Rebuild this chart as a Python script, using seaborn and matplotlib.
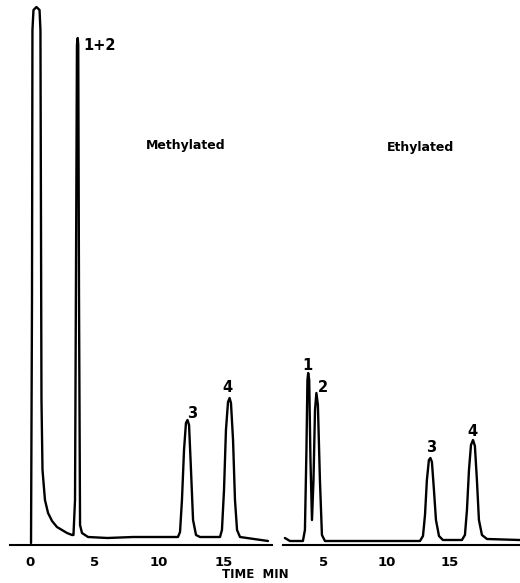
import matplotlib
matplotlib.use("Agg")
import matplotlib.pyplot as plt
import seaborn as sns
import pandas as pd

# ---- data (time in min, detector response in arbitrary units) ----
meth_time = [0.08, 0.155, 0.19, 0.27, 0.50, 0.74, 0.81, 0.89, 0.97, 1.16, 1.40, 1.71, 2.09, 2.48,
             2.87, 3.26, 3.37, 3.49, 3.59, 3.64, 3.70, 3.74, 3.80, 3.88, 4.03, 4.50, 6.0, 8.0,
             10.0, 11.47, 11.63, 11.78, 11.94, 12.09, 12.21, 12.33, 12.48, 12.64, 12.87, 13.18,
             14.73, 14.88, 15.04, 15.19, 15.35, 15.47, 15.58, 15.74, 15.89, 16.05, 16.28, 18.45]
meth_signal = [2, 245, 515, 535, 538, 535, 515, 145, 75, 45, 32, 24, 18, 15,
               12, 10, 10, 45, 345, 500, 507, 500, 245, 20, 12, 8, 7, 8,
               8, 8, 13, 45, 95, 122, 125, 120, 75, 25, 10, 8,
               8, 15, 55, 115, 143, 147, 142, 105, 45, 15, 8, 4]

eth_time = [1.90, 2.30, 3.10, 3.33, 3.49, 3.61, 3.69, 3.75, 3.83, 3.93, 4.05, 4.17, 4.29, 4.40,
            4.52, 4.68, 4.84, 5.08, 8.0, 10.0, 12.62, 12.86, 13.02, 13.17, 13.33, 13.45, 13.57,
            13.73, 13.89, 14.13, 14.44, 15.95, 16.19, 16.35, 16.51, 16.67, 16.83, 16.98, 17.14,
            17.30, 17.54, 17.94, 20.55]
eth_signal = [7, 4, 4, 4, 15, 95, 165, 172, 165, 85, 25, 65, 135, 152,
              140, 65, 10, 4, 4, 4, 4, 9, 30, 65, 85, 87, 83,
              55, 25, 9, 5, 5, 10, 35, 75, 100, 105, 99, 65,
              25, 10, 6, 5]

meth_labels = ["1+2", "3", "4"]
meth_label_time = [4.1, 12.56, 15.27]
meth_label_signal = [500, 132, 157]

eth_labels = ["1", "2", "3", "4"]
eth_label_time = [3.65, 4.92, 13.49, 16.75]
eth_label_signal = [180, 158, 98, 113]

meth_ticks = [0, 5, 10, 15]
eth_ticks = [5, 10, 15]

df_meth = pd.DataFrame({"time": meth_time, "signal": meth_signal})
df_eth = pd.DataFrame({"time": eth_time, "signal": eth_signal})

sns.set_style("white")
plt.rcParams["font.family"] = ["DejaVu Sans"]
plt.rcParams["text.color"] = "black"
plt.rcParams["xtick.color"] = "black"
plt.rcParams["xtick.labelcolor"] = "black"

W, H = 520, 583
fig = plt.figure(figsize=(W / 100, H / 100), dpi=100)
ax1 = fig.add_axes([10 / W, 38 / H, 262 / W, 545 / H])
ax2 = fig.add_axes([283 / W, 38 / H, 237 / W, 545 / H])

for ax, df, xlim, ticks, labels, lt, ls, title, tpos in [
    (ax1, df_meth, (-1.55, 18.76), meth_ticks, meth_labels, meth_label_time, meth_label_signal,
     "Methylated", (12.09, 400)),
    (ax2, df_eth, (1.75, 20.56), eth_ticks, eth_labels, eth_label_time, eth_label_signal,
     "Ethylated", (12.7, 397)),
]:
    sns.lineplot(data=df, x="time", y="signal", ax=ax, color="black", lw=1.7,
                 sort=False, estimator=None)
    ax.set_xlim(*xlim)
    ax.set_ylim(0, 545)
    ax.set_facecolor("none")
    for s in ["top", "right", "left"]:
        ax.spines[s].set_visible(False)
    ax.spines["bottom"].set_linewidth(1.5)
    ax.spines["bottom"].set_color("black")
    ax.set_yticks([])
    ax.set_xticks(ticks)
    ax.set_xticklabels([str(t) for t in ticks], fontsize=9.5, fontweight="bold", color="black")
    ax.tick_params(axis="x", direction="in", length=5, width=1.2, pad=8, colors="black")
    ax.set_xlabel("")
    ax.set_ylabel("")
    for lab, x, y in zip(labels, lt, ls):
        ax.text(x, y, lab, fontsize=10.5, fontweight="bold", color="black",
                ha="left" if lab == "1+2" else "center", va="center")
    ax.text(tpos[0], tpos[1], title, fontsize=9, fontweight="bold", color="black",
            ha="center", va="center")

fig.text(255 / W, 1 - 575 / H, "TIME  MIN", fontsize=8.5, fontweight="bold", color="black",
         ha="center", va="center")

fig.savefig("out.png", dpi=100, facecolor="white")
